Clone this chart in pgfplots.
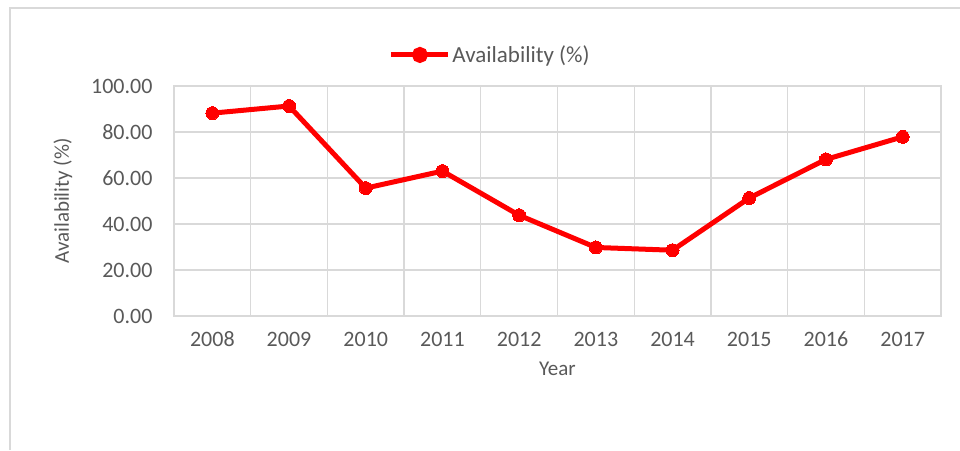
\documentclass[border=0pt]{standalone}
\usepackage{fontspec}
\setmainfont{Carlito}
\usepackage{pgfplots}
\pgfplotsset{compat=1.18}
\definecolor{gridgray}{HTML}{D9D9D9}
\definecolor{txtgray}{HTML}{595959}
\definecolor{linered}{HTML}{FF0000}
\begin{document}
\begin{tikzpicture}[x=1pt,y=1pt]
\begin{axis}[
  name=ax,
  scale only axis, width=767pt, height=230pt,
  xmin=-0.5, xmax=9.5, ymin=0, ymax=100,
  xtick={0,...,9},
  xticklabels={2008,2009,2010,2011,2012,2013,2014,2015,2016,2017},
  minor xtick={-0.5,0.5,...,9.5},
  ytick={0,20,...,100},
  xmajorgrids=false, xminorgrids=true, ymajorgrids=true,
  grid style={gridgray, line width=1.3pt},
  minor grid style={gridgray, line width=1.3pt},
  axis line style={gridgray, line width=1.3pt},
  major tick length=0pt, minor tick length=0pt,
  tick style={draw=none},
  /pgf/number format/assume math mode=true,
  yticklabel={\pgfmathprintnumber[fixed,fixed zerofill,precision=2]{\tick}},
  ticklabel style={font=\fontsize{22}{26}\selectfont, text=txtgray},
  xticklabel style={anchor=base, yshift=-30pt, text height=14pt, text depth=0pt},
  yticklabel style={xshift=-18pt},
  xlabel={Year}, ylabel={Availability (\%)},
  label style={font=\fontsize{21}{25}\selectfont, text=txtgray},
  xlabel style={at={(axis description cs:0.5,-0.23)}, anchor=center},
  ylabel style={at={(axis description cs:-0.145,0.5)}, anchor=center},
  legend style={at={(axis description cs:0.412,1.135)}, anchor=center, draw=none, fill=none,
    font=\fontsize{23}{27}\selectfont, text=txtgray, legend cell align=left,
    /tikz/every even column/.append style={column sep=0pt}},
  legend image code/.code={\draw[#1] (0pt,0pt) -- (57pt,0pt); \fill[linered] (29pt,0pt) circle (5.5pt);},
  clip=false,
]
\addplot[linered, line width=5pt, mark=*, mark size=6.5pt, mark options={fill=linered, draw=linered, line width=0pt}]
coordinates {(0,88.2) (1,91.3) (2,55.6) (3,63.0) (4,43.8) (5,29.8) (6,28.6) (7,51.3) (8,68.1) (9,77.9)};
\addlegendentry{Availability (\%)}
\end{axis}
\pgfresetboundingbox
\path (ax.south west) ++(-174,-134) coordinate (O);
\useasboundingbox (O) rectangle ++(960,450);
\draw[gridgray, line width=1.5pt] ([shift={(10,0)}]O) -- ([shift={(10,442)}]O) -- ([shift={(960,442)}]O);
\end{tikzpicture}
\end{document}
